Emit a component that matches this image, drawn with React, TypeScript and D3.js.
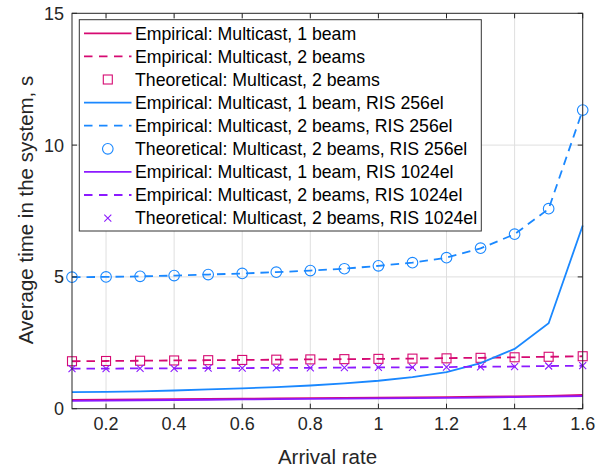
import React from "react";
import * as d3 from "d3";

const arrival = [0.1, 0.2, 0.3, 0.4, 0.5, 0.6, 0.7, 0.8, 0.9, 1.0, 1.1, 1.2, 1.3, 1.4, 1.5, 1.6];
const empMc1 = [0.33, 0.34, 0.35, 0.36, 0.37, 0.38, 0.39, 0.40, 0.41, 0.42, 0.43, 0.44, 0.46, 0.47, 0.49, 0.52];
const empMc2 = [1.80, 1.81, 1.82, 1.83, 1.84, 1.85, 1.86, 1.87, 1.88, 1.89, 1.90, 1.92, 1.93, 1.95, 1.97, 1.99];
const theoMc2 = [1.80, 1.81, 1.82, 1.83, 1.84, 1.85, 1.86, 1.87, 1.88, 1.89, 1.90, 1.91, 1.93, 1.95, 1.97, 1.99];
const empR256_1 = [0.63, 0.64, 0.66, 0.69, 0.73, 0.77, 0.82, 0.88, 0.96, 1.06, 1.20, 1.39, 1.73, 2.27, 3.24, 6.95];
const empR256_2 = [4.99, 5.00, 5.02, 5.05, 5.09, 5.13, 5.18, 5.24, 5.31, 5.42, 5.54, 5.73, 6.08, 6.62, 7.58, 11.33];
const theoR256_2 = [4.99, 5.00, 5.02, 5.05, 5.09, 5.13, 5.18, 5.24, 5.31, 5.42, 5.54, 5.73, 6.09, 6.62, 7.59, 11.33];
const empR1024_1 = [0.30, 0.31, 0.32, 0.33, 0.34, 0.35, 0.36, 0.37, 0.38, 0.39, 0.40, 0.41, 0.42, 0.44, 0.46, 0.48];
const empR1024_2 = [1.52, 1.52, 1.53, 1.53, 1.54, 1.54, 1.55, 1.55, 1.56, 1.57, 1.57, 1.58, 1.59, 1.60, 1.62, 1.63];
const theoR1024_2 = [1.52, 1.52, 1.53, 1.53, 1.54, 1.54, 1.55, 1.55, 1.56, 1.57, 1.57, 1.58, 1.59, 1.60, 1.62, 1.63];

const xTicks = [0.2, 0.4, 0.6, 0.8, 1, 1.2, 1.4, 1.6];
const yTicks = [0, 5, 10, 15];

const MAG = "#d60a72";
const BLUE = "#1a88ff";
const PURP = "#8c1aff";

type S = { label: string; values: number[]; color: string; kind: "solid" | "dash" | "square" | "circle" | "x" };
const series: S[] = [
  { label: "Empirical: Multicast, 1 beam", values: empMc1, color: MAG, kind: "solid" },
  { label: "Empirical: Multicast, 2 beams", values: empMc2, color: MAG, kind: "dash" },
  { label: "Theoretical: Multicast, 2 beams", values: theoMc2, color: MAG, kind: "square" },
  { label: "Empirical: Multicast, 1 beam, RIS 256el", values: empR256_1, color: BLUE, kind: "solid" },
  { label: "Empirical: Multicast, 2 beams, RIS 256el", values: empR256_2, color: BLUE, kind: "dash" },
  { label: "Theoretical: Multicast, 2 beams, RIS 256el", values: theoR256_2, color: BLUE, kind: "circle" },
  { label: "Empirical: Multicast, 1 beam, RIS 1024el", values: empR1024_1, color: PURP, kind: "solid" },
  { label: "Empirical: Multicast, 2 beams, RIS 1024el", values: empR1024_2, color: PURP, kind: "dash" },
  { label: "Theoretical: Multicast, 2 beams, RIS 1024el", values: theoR1024_2, color: PURP, kind: "x" },
];

const L = 72, R = 582.7, T = 13.3, B = 408.7;
const AX = "#262626";
const FONT = "'Liberation Sans', Arial, Helvetica, sans-serif";

function Marker({ kind, x, y, color }: { kind: string; x: number; y: number; color: string }) {
  if (kind === "square") return <rect x={x - 4.5} y={y - 4.5} width={9} height={9} fill="none" stroke={color} strokeWidth={1.1} />;
  if (kind === "circle") return <circle cx={x} cy={y} r={5.3} fill="none" stroke={color} strokeWidth={1.1} />;
  if (kind === "x") return <path d={`M${x - 3.5},${y - 3.5}L${x + 3.5},${y + 3.5}M${x - 3.5},${y + 3.5}L${x + 3.5},${y - 3.5}`} stroke={color} strokeWidth={1.1} />;
  return null;
}

export default function App() {
  const x = d3.scaleLinear().domain([0.1, 1.6]).range([L, R]);
  const y = d3.scaleLinear().domain([0, 15]).range([B, T]);
  const line = d3.line<number>().x((_, i) => x(arrival[i])).y((d) => y(d));

  const legX = 79.3, legY = 19.7, legW = 402, legH = 211.3;
  const rowH = 23.1;

  return (
    <svg width={612} height={470} style={{ position: "absolute", left: 0, top: 0, background: "#fff" }} fontFamily={FONT}>
      <rect x={0} y={0} width={612} height={470} fill="#fff" />
      {xTicks.map((t) => (
        <line key={"gx" + t} x1={x(t)} x2={x(t)} y1={T} y2={B} stroke="#dfdfdf" strokeWidth={1} />
      ))}
      {yTicks.slice(1, -1).map((t) => (
        <line key={"gy" + t} x1={L} x2={R} y1={y(t)} y2={y(t)} stroke="#dfdfdf" strokeWidth={1} />
      ))}
      {series.map((s, si) => {
        if (s.kind === "solid" || s.kind === "dash")
          return (
            <path key={si} d={line(s.values) || ""} fill="none" stroke={s.color} strokeWidth={1.8}
              strokeDasharray={s.kind === "dash" ? "8.5,6" : undefined} />
          );
        return (
          <g key={si}>
            {s.values.map((v, i) => (
              <Marker key={i} kind={s.kind} x={x(arrival[i])} y={y(v)} color={s.color} />
            ))}
          </g>
        );
      })}
      <rect x={L} y={T} width={R - L} height={B - T} fill="none" stroke={AX} strokeWidth={1} />
      {xTicks.map((t) => (
        <g key={"tx" + t}>
          <line x1={x(t)} x2={x(t)} y1={B} y2={B - 5} stroke={AX} />
          <line x1={x(t)} x2={x(t)} y1={T} y2={T + 5} stroke={AX} />
          <text x={x(t)} y={430} textAnchor="middle" fontSize={18} fill={AX}>{String(t)}</text>
        </g>
      ))}
      {yTicks.map((t) => (
        <g key={"ty" + t}>
          <line x1={L} x2={L + 5} y1={y(t)} y2={y(t)} stroke={AX} />
          <line x1={R} x2={R - 5} y1={y(t)} y2={y(t)} stroke={AX} />
          <text x={64} y={y(t) + 6.5} textAnchor="end" fontSize={18} fill={AX}>{String(t)}</text>
        </g>
      ))}
      <text x={327.5} y={464} textAnchor="middle" fontSize={20.5} fill={AX}>Arrival rate</text>
      <text transform={`translate(33,210) rotate(-90)`} textAnchor="middle" fontSize={20.5} fill={AX}>Average time in the system, s</text>
      <rect x={legX} y={legY} width={legW} height={legH} fill="#fff" stroke="#333" strokeWidth={1} />
      {series.map((s, i) => {
        const cy = 33.3 + i * rowH;
        return (
          <g key={"lg" + i}>
            {s.kind === "solid" || s.kind === "dash" ? (
              <line x1={84} x2={131.5} y1={cy} y2={cy} stroke={s.color} strokeWidth={1.8}
                strokeDasharray={s.kind === "dash" ? "8.5,6.5" : undefined} />
            ) : (
              <Marker kind={s.kind} x={107.8} y={cy} color={s.color} />
            )}
            <text x={135} y={cy + 6.3} fontSize={17.7} fill="#000">{s.label}</text>
          </g>
        );
      })}
    </svg>
  );
}
